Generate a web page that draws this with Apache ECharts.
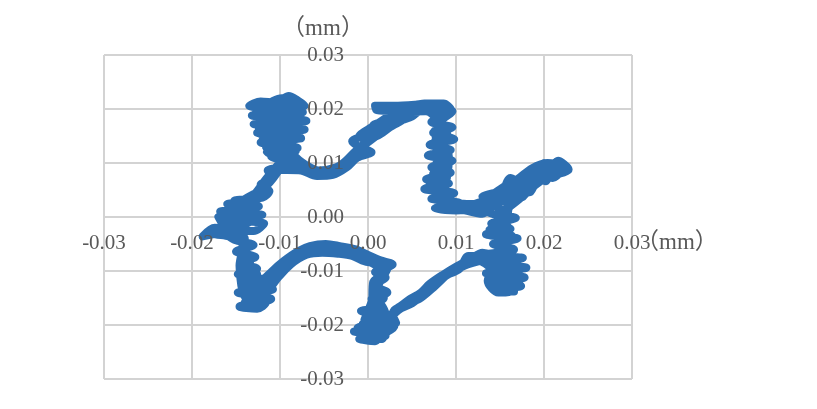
<!DOCTYPE html>
<html>
<head>
<meta charset="utf-8">
<script src="https://cdn.jsdelivr.net/npm/echarts@6/dist/echarts.min.js"></script>
<style>
  html, body { margin: 0; padding: 0; background: #fff; }
  #main { width: 817px; height: 409px; }
</style>
</head>
<body>
<div id="main"></div>
<script>
// displacement trace (mm) as [x, y] in drawing order
const upperLeftLobe = [
  [-0.0095, 0.0105], [-0.0115, 0.0120], [-0.0080, 0.0128], [-0.0122, 0.0138],
  [-0.0076, 0.0146], [-0.0126, 0.0156], [-0.0072, 0.0162], [-0.0130, 0.0172],
  [-0.0070, 0.0178], [-0.0132, 0.0188], [-0.0074, 0.0194], [-0.0135, 0.0206],
  [-0.0122, 0.0214], [-0.0105, 0.0212], [-0.0090, 0.0224], [-0.0080, 0.0216],
  [-0.0072, 0.0206], [-0.0100, 0.0200], [-0.0120, 0.0196], [-0.0082, 0.0186],
  [-0.0118, 0.0170], [-0.0078, 0.0152], [-0.0112, 0.0142], [-0.0082, 0.0122],
  [-0.0110, 0.0112], [-0.0086, 0.0098], [-0.0102, 0.0088]
];
const upperArc = [
  [-0.0076, 0.0086], [-0.0058, 0.0076], [-0.0040, 0.0078], [-0.0024, 0.0092],
  [-0.0012, 0.0110], [0.0004, 0.0120], [-0.0008, 0.0128], [-0.0018, 0.0140],
  [0.0002, 0.0154], [0.0016, 0.0168], [0.0006, 0.0170], [0.0026, 0.0180],
  [0.0036, 0.0186], [0.0046, 0.0194], [0.0010, 0.0198], [0.0008, 0.0206],
  [0.0030, 0.0206], [0.0054, 0.0208], [0.0064, 0.0210], [0.0086, 0.0210],
  [0.0094, 0.0200], [0.0070, 0.0194], [0.0090, 0.0188]
];
const rightColumn = [
  [0.0072, 0.0176], [0.0096, 0.0166], [0.0074, 0.0156], [0.0098, 0.0144],
  [0.0070, 0.0134], [0.0094, 0.0124], [0.0068, 0.0114], [0.0096, 0.0104],
  [0.0072, 0.0092], [0.0094, 0.0082], [0.0066, 0.0070], [0.0092, 0.0062],
  [0.0064, 0.0052], [0.0098, 0.0044], [0.0072, 0.0034], [0.0104, 0.0026],
  [0.0076, 0.0016], [0.0100, 0.0012], [0.0122, 0.0016], [0.0136, 0.0024]
];
const rightWing = [
  [0.0130, 0.0038], [0.0152, 0.0046], [0.0146, 0.0020], [0.0166, 0.0058],
  [0.0164, 0.0024], [0.0182, 0.0076], [0.0184, 0.0046], [0.0200, 0.0100],
  [0.0202, 0.0066], [0.0216, 0.0104], [0.0228, 0.0088], [0.0214, 0.0080],
  [0.0194, 0.0088], [0.0176, 0.0062], [0.0162, 0.0072], [0.0150, 0.0032],
  [0.0136, 0.0010]
];
const lowerRightLobe = [
  [0.0168, -0.0002], [0.0140, -0.0012], [0.0162, -0.0022], [0.0134, -0.0032],
  [0.0170, -0.0040], [0.0142, -0.0050], [0.0166, -0.0060], [0.0132, -0.0070],
  [0.0176, -0.0076], [0.0136, -0.0086], [0.0180, -0.0094], [0.0134, -0.0104],
  [0.0178, -0.0112], [0.0140, -0.0122], [0.0174, -0.0128], [0.0144, -0.0136],
  [0.0166, -0.0138], [0.0150, -0.0110], [0.0124, -0.0080]
];
const lowerDiagonal = [
  [0.0110, -0.0084], [0.0092, -0.0104], [0.0076, -0.0128], [0.0058, -0.0152],
  [0.0042, -0.0162], [0.0028, -0.0180]
];
const bottomLobe = [
  [0.0032, -0.0196], [-0.0006, -0.0198], [0.0026, -0.0208], [-0.0016, -0.0212],
  [0.0020, -0.0220], [-0.0010, -0.0226], [0.0008, -0.0230], [0.0014, -0.0214],
  [0.0008, -0.0196], [0.0024, -0.0184], [-0.0008, -0.0174], [0.0016, -0.0166],
  [0.0004, -0.0152], [0.0022, -0.0140], [0.0006, -0.0126], [0.0020, -0.0112],
  [0.0008, -0.0102], [0.0028, -0.0088]
];
const lowerArch = [
  [0.0014, -0.0080], [0.0000, -0.0070], [-0.0014, -0.0060], [-0.0032, -0.0054],
  [-0.0048, -0.0050], [-0.0066, -0.0054], [-0.0080, -0.0064], [-0.0096, -0.0082],
  [-0.0110, -0.0102], [-0.0122, -0.0124]
];
const leftLobe = [
  [-0.0108, -0.0134], [-0.0148, -0.0140], [-0.0110, -0.0152], [-0.0146, -0.0166],
  [-0.0126, -0.0170], [-0.0116, -0.0158], [-0.0144, -0.0124], [-0.0118, -0.0116],
  [-0.0148, -0.0106], [-0.0126, -0.0096], [-0.0142, -0.0084], [-0.0128, -0.0074],
  [-0.0150, -0.0064], [-0.0130, -0.0052], [-0.0152, -0.0042], [-0.0166, -0.0030],
  [-0.0188, -0.0036], [-0.0174, -0.0020], [-0.0130, -0.0026], [-0.0118, -0.0012],
  [-0.0164, -0.0006], [-0.0120, 0.0004], [-0.0168, 0.0010], [-0.0124, 0.0020],
  [-0.0152, 0.0030], [-0.0120, 0.0036], [-0.0112, 0.0048], [-0.0122, 0.0060],
  [-0.0108, 0.0072], [-0.0114, 0.0086], [-0.0094, 0.0096]
];
const secondPass = [
  [-0.0106, 0.0116], [-0.0090, 0.0134], [-0.0124, 0.0164], [-0.0096, 0.0176],
  [-0.0114, 0.0206], [-0.0098, 0.0220], [-0.0076, 0.0192], [-0.0104, 0.0154],
  [-0.0084, 0.0114], [-0.0072, 0.0098], [-0.0056, 0.0086], [-0.0036, 0.0092],
  [-0.0020, 0.0108], [-0.0006, 0.0134], [0.0010, 0.0152], [0.0022, 0.0170],
  [0.0040, 0.0180], [0.0050, 0.0186], [0.0060, 0.0198], [0.0076, 0.0204],
  [0.0096, 0.0196], [0.0082, 0.0174], [0.0084, 0.0148], [0.0088, 0.0120],
  [0.0078, 0.0102], [0.0088, 0.0076], [0.0076, 0.0056], [0.0080, 0.0036],
  [0.0090, 0.0022], [0.0116, 0.0010], [0.0130, 0.0006], [0.0154, 0.0054],
  [0.0174, 0.0036], [0.0196, 0.0094], [0.0210, 0.0072], [0.0224, 0.0094],
  [0.0194, 0.0064], [0.0160, 0.0016], [0.0158, -0.0014], [0.0138, -0.0024],
  [0.0164, -0.0036], [0.0150, -0.0056], [0.0162, -0.0084], [0.0146, -0.0100],
  [0.0166, -0.0114], [0.0156, -0.0132], [0.0142, -0.0096], [0.0126, -0.0072],
  [0.0114, -0.0072], [0.0104, -0.0096], [0.0084, -0.0112], [0.0068, -0.0136],
  [0.0050, -0.0160], [0.0034, -0.0172], [0.0022, -0.0192], [-0.0012, -0.0206],
  [0.0010, -0.0218], [0.0030, -0.0202], [0.0012, -0.0180], [0.0010, -0.0140],
  [0.0016, -0.0104], [0.0010, -0.0088], [-0.0004, -0.0082], [-0.0018, -0.0072],
  [-0.0034, -0.0068], [-0.0052, -0.0066], [-0.0070, -0.0070], [-0.0088, -0.0088],
  [-0.0102, -0.0112], [-0.0116, -0.0140], [-0.0136, -0.0156], [-0.0132, -0.0116],
  [-0.0138, -0.0088], [-0.0140, -0.0056], [-0.0158, -0.0018], [-0.0140, 0.0002],
  [-0.0170, -0.0024], [-0.0146, 0.0026], [-0.0118, 0.0054], [-0.0104, 0.0080],
  [-0.0096, 0.0106]
];
const thirdPass = [
  [-0.0120, 0.0150], [-0.0100, 0.0186], [-0.0128, 0.0200], [-0.0086, 0.0208],
  [-0.0106, 0.0170], [-0.0090, 0.0160], [-0.0116, 0.0130], [-0.0096, 0.0120],
  [-0.0080, 0.0092], [-0.0062, 0.0080], [-0.0044, 0.0084], [-0.0028, 0.0100],
  [-0.0014, 0.0122], [-0.0002, 0.0136], [0.0018, 0.0160], [0.0036, 0.0176],
  [0.0048, 0.0190], [0.0030, 0.0190], [0.0010, 0.0172], [-0.0010, 0.0150],
  [0.0006, 0.0148], [0.0028, 0.0170], [0.0050, 0.0196], [0.0070, 0.0202],
  [0.0082, 0.0192], [0.0080, 0.0170], [0.0090, 0.0156], [0.0076, 0.0140],
  [0.0086, 0.0128], [0.0080, 0.0110], [0.0090, 0.0094], [0.0074, 0.0080],
  [0.0084, 0.0066], [0.0080, 0.0048], [0.0090, 0.0034], [0.0096, 0.0018],
  [0.0110, 0.0020], [0.0128, 0.0028], [0.0140, 0.0040], [0.0158, 0.0060],
  [0.0170, 0.0070], [0.0186, 0.0090], [0.0204, 0.0100], [0.0220, 0.0096],
  [0.0208, 0.0084], [0.0190, 0.0070], [0.0174, 0.0052], [0.0160, 0.0040],
  [0.0146, 0.0028], [0.0158, 0.0032], [0.0180, 0.0056], [0.0196, 0.0078],
  [0.0212, 0.0090], [0.0222, 0.0084], [0.0200, 0.0072], [0.0180, 0.0044],
  [0.0160, 0.0018], [0.0148, 0.0008], [0.0152, -0.0010], [0.0146, -0.0030],
  [0.0156, -0.0046], [0.0150, -0.0066], [0.0160, -0.0074], [0.0170, -0.0090],
  [0.0150, -0.0090], [0.0160, -0.0104], [0.0172, -0.0120], [0.0152, -0.0122],
  [0.0162, -0.0138], [0.0148, -0.0140], [0.0136, -0.0118], [0.0146, -0.0080],
  [0.0130, -0.0066], [0.0116, -0.0078], [0.0100, -0.0092], [0.0086, -0.0106],
  [0.0070, -0.0124], [0.0060, -0.0140], [0.0046, -0.0154], [0.0036, -0.0166],
  [0.0030, -0.0172], [0.0020, -0.0200], [0.0000, -0.0206], [-0.0008, -0.0218],
  [0.0004, -0.0224], [0.0018, -0.0206], [0.0030, -0.0190], [0.0014, -0.0190],
  [0.0002, -0.0180], [0.0010, -0.0160], [0.0018, -0.0150], [0.0012, -0.0130],
  [0.0014, -0.0118], [0.0022, -0.0096], [0.0012, -0.0092], [-0.0006, -0.0076],
  [-0.0024, -0.0066], [-0.0040, -0.0060], [-0.0058, -0.0060], [-0.0074, -0.0064],
  [-0.0090, -0.0076], [-0.0104, -0.0096], [-0.0116, -0.0118], [-0.0124, -0.0134],
  [-0.0132, -0.0146], [-0.0140, -0.0158], [-0.0134, -0.0164], [-0.0124, -0.0150],
  [-0.0136, -0.0130], [-0.0126, -0.0106], [-0.0134, -0.0094], [-0.0140, -0.0076],
  [-0.0144, -0.0060], [-0.0140, -0.0046], [-0.0158, -0.0036], [-0.0176, -0.0030],
  [-0.0150, -0.0016], [-0.0136, -0.0010], [-0.0150, 0.0006], [-0.0136, 0.0016],
  [-0.0158, 0.0014], [-0.0140, 0.0030], [-0.0128, 0.0044], [-0.0118, 0.0066],
  [-0.0106, 0.0090], [-0.0100, 0.0104]
];
const fourthPass = [
  [-0.0104, 0.0140], [-0.0110, 0.0190], [-0.0114, 0.0160], [-0.0124, 0.0190],
  [-0.0094, 0.0210], [-0.0084, 0.0176], [-0.0092, 0.0140], [-0.0078, 0.0170],
  [-0.0080, 0.0196], [-0.0094, 0.0110], [-0.0070, 0.0090], [-0.0050, 0.0082],
  [-0.0030, 0.0094], [-0.0016, 0.0116], [0.0000, 0.0142], [0.0020, 0.0176],
  [0.0040, 0.0194], [0.0066, 0.0196], [0.0086, 0.0150], [0.0078, 0.0100],
  [0.0086, 0.0040], [0.0076, 0.0160], [0.0092, 0.0110], [0.0084, 0.0050],
  [0.0070, 0.0060], [0.0094, 0.0030], [0.0120, 0.0024], [0.0150, 0.0050],
  [0.0190, 0.0084], [0.0214, 0.0096], [0.0190, 0.0060], [0.0160, 0.0026],
  [0.0156, -0.0020], [0.0150, -0.0060], [0.0140, -0.0100], [0.0146, -0.0130],
  [0.0158, -0.0100], [0.0166, -0.0126], [0.0170, -0.0080], [0.0156, -0.0070],
  [0.0140, -0.0076], [0.0110, -0.0090], [0.0080, -0.0118], [0.0054, -0.0150],
  [0.0032, -0.0176], [0.0010, -0.0208], [-0.0004, -0.0220], [0.0016, -0.0226],
  [0.0020, -0.0180], [0.0008, -0.0140], [0.0018, -0.0110], [0.0006, -0.0120],
  [0.0004, -0.0170], [-0.0004, -0.0190], [0.0016, -0.0090], [-0.0010, -0.0068],
  [-0.0040, -0.0056], [-0.0070, -0.0062], [-0.0096, -0.0086], [-0.0114, -0.0116],
  [-0.0130, -0.0156], [-0.0142, -0.0120], [-0.0136, -0.0080], [-0.0128, -0.0120],
  [-0.0120, -0.0140], [-0.0138, -0.0150], [-0.0146, -0.0090], [-0.0140, -0.0040],
  [-0.0160, -0.0024], [-0.0170, 0.0000], [-0.0144, -0.0004], [-0.0128, 0.0010],
  [-0.0160, 0.0024], [-0.0130, 0.0030], [-0.0116, 0.0056], [-0.0102, 0.0090]
];

const axisMin = -0.03;
const axisMax = 0.03;
const axisStep = 0.01;
const axisUnit = '（mm）';

const trace = [].concat(
  upperLeftLobe, upperArc, rightColumn, rightWing, lowerRightLobe,
  lowerDiagonal, bottomLobe, lowerArch, leftLobe, secondPass, thirdPass, fourthPass
);

const labelFont = "'Liberation Serif', 'Noto Sans CJK SC', serif";
const labelColor = '#595959';
const fmt = function (v) {
  if (Math.abs(v) < 1e-9) return '0.00';
  return v.toFixed(2);
};

// axes that only draw the grid (under the trace)
const gridAxis = {
  type: 'value',
  min: axisMin,
  max: axisMax,
  interval: axisStep,
  z: 0,
  axisLine: { show: false, onZero: false },
  axisTick: { show: false },
  axisLabel: { show: false },
  splitLine: { show: true, lineStyle: { color: '#d3d3d3', width: 2 } }
};
// axes that only draw the labels (over the trace), moved onto the zero lines
const labelAxis = {
  type: 'value',
  min: axisMin,
  max: axisMax,
  interval: axisStep,
  z: 10,
  axisLine: { show: false, onZero: false },
  axisTick: { show: false },
  splitLine: { show: false }
};

let option = {
  animation: false,
  backgroundColor: '#fff',
  grid: { left: 104, right: 185, top: 55, bottom: 30, containLabel: false },
  xAxis: [
    Object.assign({}, gridAxis, { position: 'bottom' }),
    Object.assign({}, labelAxis, {
      position: 'bottom',
      offset: -162,
      axisLabel: { color: labelColor, fontSize: 21, fontFamily: labelFont, margin: 16, formatter: fmt }
    })
  ],
  yAxis: [
    Object.assign({}, gridAxis, { position: 'left' }),
    Object.assign({}, labelAxis, {
      position: 'left',
      offset: -264,
      name: axisUnit,
      nameLocation: 'end',
      nameGap: 15,
      nameTextStyle: { color: labelColor, fontSize: 23, fontFamily: labelFont, padding: [0, 90, 0, 0] },
      axisLabel: { color: labelColor, fontSize: 21, fontFamily: labelFont, margin: 24, formatter: fmt }
    })
  ],
  graphic: [
    {
      type: 'text',
      left: 636,
      top: 231,
      z: 10,
      style: { text: axisUnit, fill: labelColor, fontSize: 23, fontFamily: labelFont }
    }
  ],
  series: [
    {
      type: 'line',
      xAxisIndex: 0,
      yAxisIndex: 0,
      data: trace,
      showSymbol: false,
      smooth: 0.3,
      z: 5,
      lineStyle: { color: '#2e6fb1', width: 8, join: 'round', cap: 'round' }
    }
  ]
};

let myChart = echarts.init(document.getElementById('main'));
myChart.setOption(option);
</script>
</body>
</html>
